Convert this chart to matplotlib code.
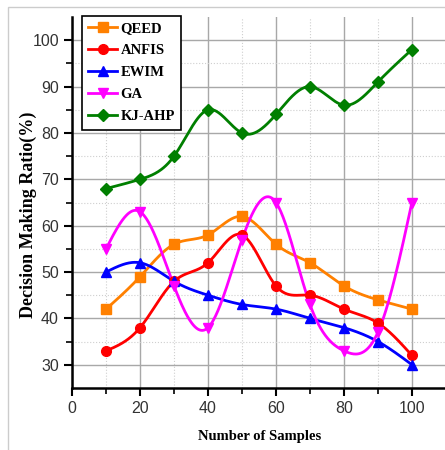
import numpy as np
import matplotlib
matplotlib.use("Agg")
import matplotlib.pyplot as plt
from matplotlib.patches import Rectangle

samples = [10, 20, 30, 40, 50, 60, 70, 80, 90, 100]
qeed = [42, 49, 56, 58, 62, 56, 52, 47, 44, 42]
anfis = [33, 38, 48, 52, 58, 47, 45, 42, 39, 32]
ewim = [50, 52, 48, 45, 43, 42, 40, 38, 35, 30]
ga = [55, 63, 47, 38, 57, 65, 43, 33, 37, 65]
kj_ahp = [68, 70, 75, 85, 80, 84, 90, 86, 91, 98]


def natural_spline(x, y, n=400):
    # plain natural cubic spline, only used to draw the smooth line
    x = np.asarray(x, float)
    y = np.asarray(y, float)
    k = len(x)
    h = np.diff(x)
    A = np.zeros((k, k))
    b = np.zeros(k)
    A[0, 0] = A[-1, -1] = 1
    for i in range(1, k - 1):
        A[i, i - 1] = h[i - 1]
        A[i, i] = 2 * (h[i - 1] + h[i])
        A[i, i + 1] = h[i]
        b[i] = 6 * ((y[i + 1] - y[i]) / h[i] - (y[i] - y[i - 1]) / h[i - 1])
    M = np.linalg.solve(A, b)
    xs = np.linspace(x[0], x[-1], n)
    idx = np.clip(np.searchsorted(x, xs) - 1, 0, k - 2)
    x0, x1 = x[idx], x[idx + 1]
    hh = x1 - x0
    t0 = x1 - xs
    t1 = xs - x0
    ys = (M[idx] * t0 ** 3 / (6 * hh) + M[idx + 1] * t1 ** 3 / (6 * hh)
          + (y[idx] / hh - M[idx] * hh / 6) * t0
          + (y[idx + 1] / hh - M[idx + 1] * hh / 6) * t1)
    return xs, ys


fig = plt.figure(figsize=(4.45, 4.5), dpi=100)
fig.patches.append(Rectangle((0.018, -0.1), 1.2, 1.085, transform=fig.transFigure,
                             fill=False, edgecolor='#cccccc', lw=1))
ax = fig.add_axes([0.162, 0.138, 0.84, 0.824])

series = [
    ("QEED", qeed, '#FF8000', 's'),
    ("ANFIS", anfis, '#FF0000', 'o'),
    ("EWIM", ewim, '#0000FF', '^'),
    ("GA", ga, '#FF00FF', 'v'),
    ("KJ-AHP", kj_ahp, '#007F00', 'D'),
]

for name, vals, col, mk in series:
    ms = 7 if mk != 'D' else 6
    xs, ys = natural_spline(samples, vals)
    ax.plot(xs, ys, color=col, lw=2, zorder=3)
    ax.plot(samples, vals, linestyle='none', marker=mk, color=col,
            markersize=ms, zorder=4)
    ax.plot([], [], color=col, lw=2, marker=mk, markersize=ms, label=name)

ax.set_xlim(0, 110)
ax.set_ylim(25, 105)
ax.set_xticks([0, 20, 40, 60, 80, 100])
ax.set_xticks([10, 30, 50, 70, 90], minor=True)
ax.set_yticks([30, 40, 50, 60, 70, 80, 90, 100])
ax.set_yticks([35, 45, 55, 65, 75, 85, 95], minor=True)

ax.grid(which='major', color='#a8a8a8', lw=1)
ax.grid(which='minor', color='#cfcfcf', lw=0.8, linestyle=':')
ax.set_axisbelow(True)

for s in ['top', 'right']:
    ax.spines[s].set_visible(False)
for s in ['left', 'bottom']:
    ax.spines[s].set_linewidth(1.8)
    ax.spines[s].set_color('black')

tick_font = ['Liberation Sans Narrow', 'Liberation Sans', 'DejaVu Sans']
ax.tick_params(which='major', direction='out', length=6, width=1.5,
               labelsize=11.5, labelcolor='#333333')
ax.tick_params(which='minor', direction='out', length=4, width=1.2)
for lab in ax.get_xticklabels() + ax.get_yticklabels():
    lab.set_family(tick_font)

ax.set_xlabel("Number of Samples", family='Liberation Serif', fontweight='bold',
              fontsize=10.5)
ax.set_ylabel("Decision Making Ratio(%)", family='Liberation Serif', fontweight='bold',
              fontsize=13)
ax.xaxis.set_label_coords(0.503, -0.113)
ax.yaxis.set_label_coords(-0.094, 0.466)

leg = ax.legend(loc='upper left', bbox_to_anchor=(0.018, 1.012), fancybox=False,
                framealpha=1, edgecolor='black', handlelength=2.0,
                prop={'family': 'Liberation Serif', 'weight': 'bold', 'size': 10.5},
                borderpad=0.45, labelspacing=0.6, handletextpad=0.2,
                borderaxespad=0.2)
leg.get_frame().set_linewidth(1.2)

plt.savefig("out.png", dpi=100)
